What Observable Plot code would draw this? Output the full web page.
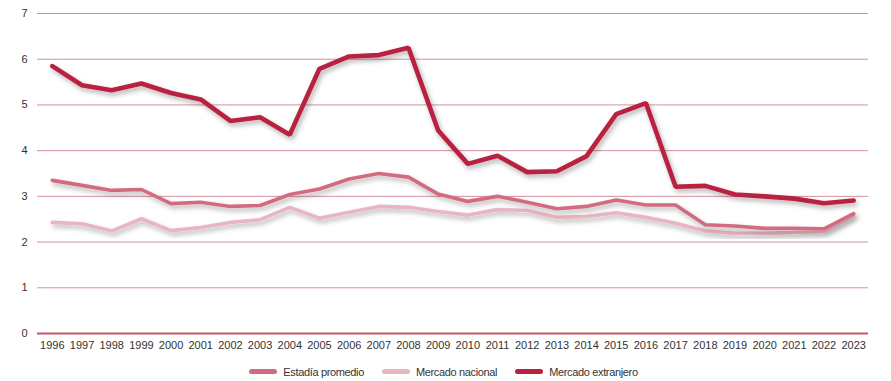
<!DOCTYPE html>
<html>
<head>
<meta charset="utf-8">
<script src="https://cdn.jsdelivr.net/npm/d3@7"></script>
<script src="https://cdn.jsdelivr.net/npm/@observablehq/plot@0.6"></script>
<style>
  html, body { margin: 0; padding: 0; background: #fff; }
  #chart { width: 891px; }
  .legend { display: flex; justify-content: center; align-items: center; height: 23px; margin-top: 2px; font-family: "Liberation Sans", Arial, sans-serif; font-size: 11px; color: #333; letter-spacing: -0.35px; padding-right: 4px; }
  .legend .item { display: flex; align-items: center; margin: 0 9px; }
  .legend .sw { width: 28px; height: 5px; border-radius: 3px; margin-right: 6px; }
</style>
</head>
<body>
<div id="chart"></div>
<script>
const years = [1996,1997,1998,1999,2000,2001,2002,2003,2004,2005,2006,2007,2008,2009,2010,2011,2012,2013,2014,2015,2016,2017,2018,2019,2020,2021,2022,2023];
const estadia = [3.35,3.24,3.13,3.15,2.84,2.87,2.78,2.80,3.04,3.16,3.38,3.50,3.42,3.05,2.89,3.00,2.87,2.73,2.78,2.92,2.81,2.81,2.38,2.35,2.30,2.30,2.29,2.62];
const nacional = [2.43,2.40,2.24,2.51,2.25,2.32,2.43,2.49,2.76,2.52,2.65,2.78,2.76,2.67,2.59,2.71,2.69,2.54,2.56,2.64,2.54,2.41,2.24,2.19,2.19,2.21,2.23,2.58];
const extranjero = [5.85,5.43,5.32,5.47,5.26,5.12,4.65,4.73,4.35,5.79,6.06,6.09,6.25,4.44,3.71,3.89,3.53,3.55,3.88,4.80,5.04,3.21,3.23,3.04,3.00,2.95,2.85,2.91];
const seriesNames = ["Estadía promedio", "Mercado nacional", "Mercado extranjero"];
const seriesColors = ["#d26b80", "#e9b5c0", "#b8213f"];
const yTicks = [0,1,2,3,4,5,6,7];

const rows = [];
const drawOrder = [[nacional, 1], [estadia, 0], [extranjero, 2]];
for (const [vals, si] of drawOrder) {
  years.forEach((yr, i) => rows.push({year: yr, value: vals[i], series: seriesNames[si]}));
}

const chart = Plot.plot({
  width: 891,
  height: 358,
  marginLeft: 37,
  marginRight: 23,
  marginTop: 13,
  marginBottom: 25,
  style: {fontFamily: "'Liberation Sans', Arial, sans-serif", fontSize: "11px", color: "#333", background: "#fff"},
  x: {type: "point", domain: years, padding: 0.5, round: false, label: null, tickSize: 0, tickPadding: 8, tickFormat: d => String(d)},
  y: {domain: [0, 7], ticks: yTicks, label: null, tickSize: 0, tickPadding: 10, tickFormat: d => String(d)},
  color: {domain: seriesNames, range: seriesColors},
  marks: [
    Plot.ruleY(yTicks.filter(d => d > 0), {stroke: "#d4909d", strokeWidth: 1}),
    Plot.ruleY([0], {stroke: "#c4566d", strokeWidth: 2.2}),
    Plot.line(rows.filter(d => d.series === seriesNames[1]), {x: "year", y: "value", stroke: "series", strokeWidth: 3.6, strokeLinejoin: "miter", className: "ln"}),
    Plot.line(rows.filter(d => d.series === seriesNames[0]), {x: "year", y: "value", stroke: "series", strokeWidth: 3.6, strokeLinejoin: "miter", className: "ln"}),
    Plot.line(rows.filter(d => d.series === seriesNames[2]), {x: "year", y: "value", stroke: "series", strokeWidth: 4.6, strokeLinejoin: "miter", className: "ln"})
  ]
});

// drop shadow filter for the lines
const svg = d3.select(chart);
const defs = svg.insert("defs", ":first-child");
const f = defs.append("filter").attr("id", "shadow").attr("x", "-5%").attr("y", "-20%").attr("width", "110%").attr("height", "140%");
f.append("feDropShadow").attr("dx", 2).attr("dy", 3).attr("stdDeviation", 2.5).attr("flood-color", "#000").attr("flood-opacity", 0.3);
svg.selectAll(".ln").attr("filter", "url(#shadow)");

document.getElementById("chart").appendChild(chart);

const legend = document.createElement("div");
legend.className = "legend";
seriesNames.forEach((name, i) => {
  const it = document.createElement("div");
  it.className = "item";
  const sw = document.createElement("span");
  sw.className = "sw";
  sw.style.background = seriesColors[i];
  const tx = document.createElement("span");
  tx.textContent = name;
  it.appendChild(sw);
  it.appendChild(tx);
  legend.appendChild(it);
});
document.getElementById("chart").appendChild(legend);
</script>
</body>
</html>
